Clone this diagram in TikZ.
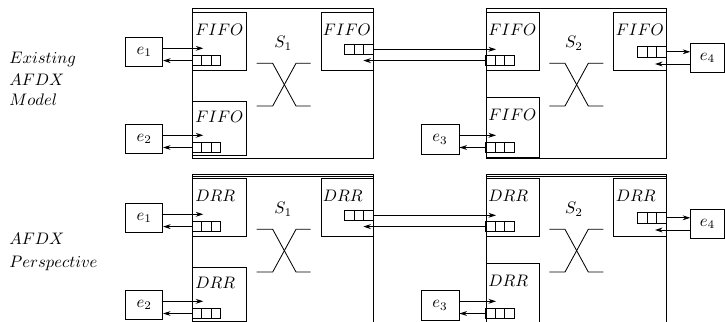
\documentclass[tikz,border=0pt]{standalone}
\usetikzlibrary{arrows.meta}
\tikzset{
  every path/.style={line width=0.5pt},
  sw/.style={draw, anchor=north west, inner sep=0, minimum width=108.3pt, minimum height=90pt},
  qbox/.style={draw, anchor=north west, inner sep=0},
  ebox/.style={draw, inner sep=0},
  buf/.style={draw, inner sep=0, minimum width=17.1pt, minimum height=6.3pt,
    path picture={
      \draw ([xshift=5.7pt]path picture bounding box.south west) -- ([xshift=5.7pt]path picture bounding box.north west);
      \draw ([xshift=11.4pt]path picture bounding box.south west) -- ([xshift=11.4pt]path picture bounding box.north west);
    }},
  lab/.style={anchor=base west, inner sep=0},
  arr/.style={-{Stealth[length=4.5pt,width=2.9pt]}},
}
\begin{document}
\begin{tikzpicture}[x=0.6pt,y=-0.6pt]
\useasboundingbox (0,0) rectangle (725,322);
% left labels
\node[lab] (l1) at (9,63.3) {$Existing$};
\node[lab] (l2) at (9,85.7) {$AFDX$};
\node[lab] (l3) at (9,105) {$Model$};
\node[lab] (l4) at (9,244) {$AFDX$};
\node[lab] (l5) at (9,267.3) {$Perspective$};
\foreach \r/\o/\lab in {a/0/FIFO, b/166/DRR}{
  % switches
  \node[sw] (S1\r) at (192.3,8.3+\o) {};
  \node[sw] (S2\r) at (485.7,8.3+\o) {};
  % queue boxes in S1
  \node[qbox, minimum width=32pt, minimum height=34.8pt] (q1\r) at (192.3,12.3+\o) {};
  \node[qbox, minimum width=32pt, minimum height=32.8pt] (q2\r) at (192.3,100.7+\o) {};
  \node[qbox, minimum width=31.2pt, minimum height=34.8pt] (q3\r) at (321,12.3+\o) {};
  % queue boxes in S2
  \node[qbox, minimum width=32pt, minimum height=34.8pt] (q4\r) at (485.7,12.3+\o) {};
  \node[qbox, minimum width=32pt, minimum height=36.1pt] (q5\r) at (485.7,97.3+\o) {};
  \node[qbox, minimum width=31.6pt, minimum height=34.8pt] (q6\r) at (613.3,12.3+\o) {};
  % queue labels
  \node[lab] (f1\r) at (195,35+\o) {$\lab$};
  \node[lab] (f2\r) at (195,122+\o) {$\lab$};
  \node[lab] (f3\r) at (322.5,35+\o) {$\lab$};
  \node[lab] (f4\r) at (488,35+\o) {$\lab$};
  \node[lab] (f5\r) at (488,120.5+\o) {$\lab$};
  \node[lab] (f6\r) at (615.5,35+\o) {$\lab$};
  % switch labels
  \node (s1\r) at (283.3,43.3+\o) {$S_1$};
  \node (s2\r) at (574,43.3+\o) {$S_2$};
  % crossbars
  \draw (256.7,63.3+\o) -- ++(16,0) -- ++(23.3,42.7) -- ++(14.7,0);
  \draw (256.7,106+\o) -- ++(16,0) -- ++(23.3,-42.7) -- ++(14.7,0);
  \draw (549.3,63.3+\o) -- ++(15.7,0) -- ++(23.3,42.7) -- ++(15,0);
  \draw (549.3,106+\o) -- ++(15.7,0) -- ++(23.3,-42.7) -- ++(15,0);
  % buffers
  \node[buf] (b1\r) at (206.5,60.6+\o) {};
  \node[buf] (b2\r) at (206.5,147.5+\o) {};
  \node[buf] (b3\r) at (358.75,49.3+\o) {};
  \node[buf] (b4\r) at (499.9,60.6+\o) {};
  \node[buf] (b5\r) at (499.9,147.5+\o) {};
  \node[buf] (b6\r) at (652,51.8+\o) {};
  % end systems
  \node[ebox, minimum width=22.2pt, minimum height=17.3pt] (e1\r) at (144.2,52+\o) {$e_1$};
  \node[ebox, minimum width=22.2pt, minimum height=17.4pt] (e2\r) at (144.2,138.8+\o) {$e_2$};
  \node[ebox, minimum width=22.8pt, minimum height=17.8pt] (e3\r) at (440,139.2+\o) {$e_3$};
  \node[ebox, minimum width=20.1pt, minimum height=17.6pt] (e4\r) at (707.4,58+\o) {$e_4$};
  % arrow tips
  \coordinate (t1\r) at (203.3,48.3+\o);
  \coordinate (t2\r) at (203.3,135.3+\o);
  \coordinate (t3\r) at (496,49.3+\o);
  \coordinate (t4\r) at (363.3,60.6+\o);
  \coordinate (t5\r) at (496,135.3+\o);
  \coordinate (t6\r) at (655,64+\o);
  % connectors
  \draw[arr] (e1\r.east |- t1\r) -- (t1\r);
  \draw[arr] (b1\r.west) -- (b1\r.west -| e1\r.east);
  \draw[arr] (e2\r.east |- t2\r) -- (t2\r);
  \draw[arr] (b2\r.west) -- (b2\r.west -| e2\r.east);
  \draw[arr] (b3\r.east) -- (t3\r);
  \draw[arr] (b4\r.west) -- (t4\r);
  \draw[arr] (e3\r.east |- t5\r) -- (t5\r);
  \draw[arr] (b5\r.west) -- (b5\r.west -| e3\r.east);
  \draw[arr] (b6\r.east) -- (b6\r.east -| e4\r.west);
  \draw[arr] (e4\r.west |- t6\r) -- (t6\r);
}
% second top edge of the lower switches
\coordinate (d1) at (192.3,176.6);
\coordinate (d2) at (485.7,176.6);
\draw (d1) -- (d1 -| S1b.east);
\draw (d2) -- (d2 -| S2b.east);
\end{tikzpicture}
\end{document}
